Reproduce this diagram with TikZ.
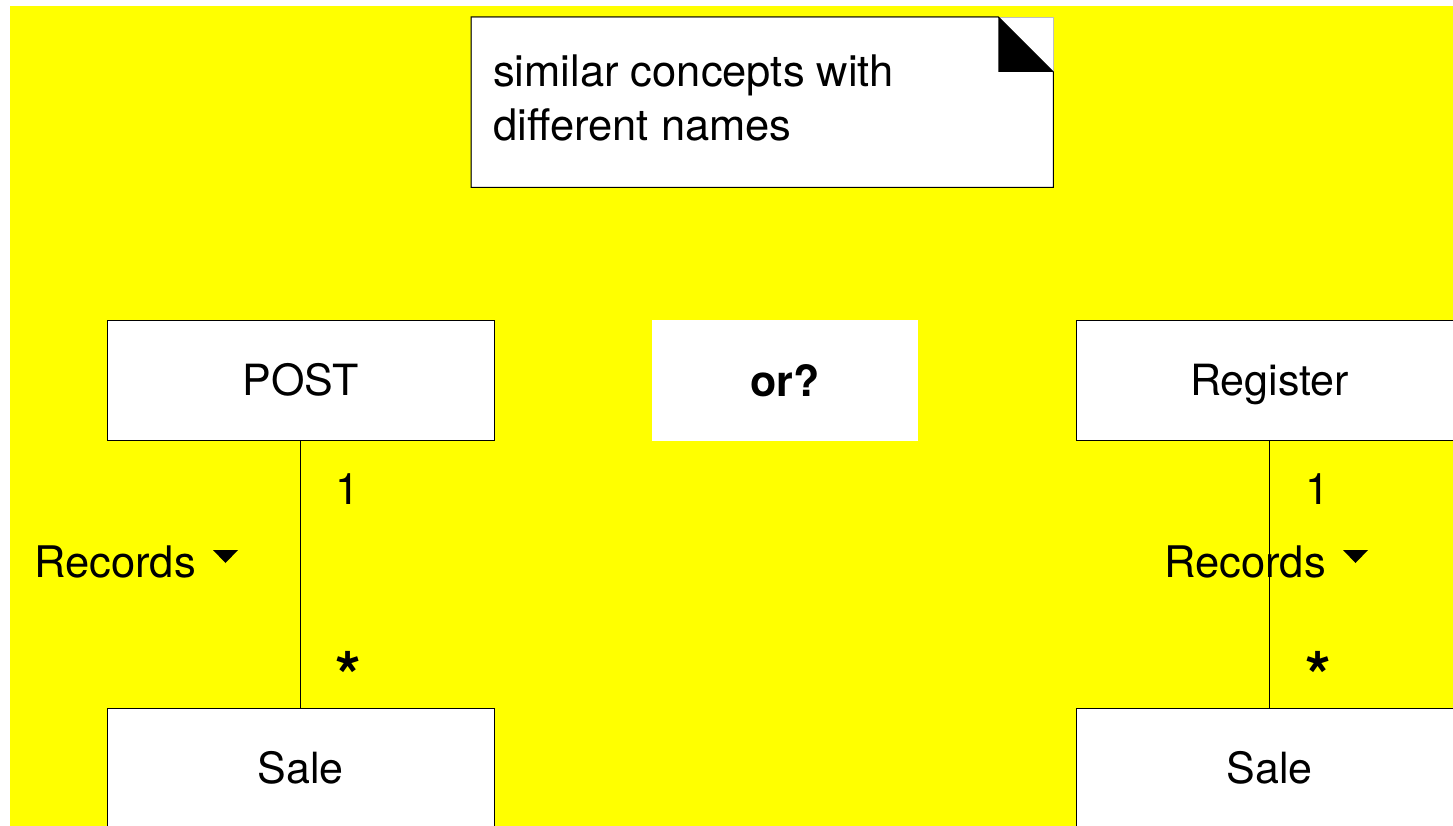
\documentclass[tikz,border=0pt]{standalone}
\usepackage{fontspec}
\setmainfont{TeX Gyre Heros}
\definecolor{bgyellow}{RGB}{255,255,0}
\begin{document}
\begin{tikzpicture}[x=1pt,y=-1pt,
  lbl/.style={font=\fontsize{43.5}{54}\selectfont, inner sep=0pt},
  star/.style={font=\bfseries\fontsize{66}{66}\selectfont, inner sep=0pt},
  cls/.style={draw=black, line width=1pt, fill=white, minimum width=387pt, minimum height=120pt,
    inner sep=0pt, text height=31pt, text depth=0pt, font=\fontsize{43}{54}\selectfont},
  plain/.style={fill=white, minimum width=266pt, minimum height=121pt, inner sep=0pt,
    text height=31pt, text depth=0pt, font=\bfseries\fontsize{43}{54}\selectfont},
  assoc/.style={line width=1pt}]
\useasboundingbox (0,0) rectangle (1453,826);
\fill[bgyellow] (10,6) rectangle (1453,826);

% note
\node[minimum width=582pt, minimum height=170pt, inner sep=0pt, anchor=north west] (note) at (471,17) {};
\draw[gray!50, fill=white, line width=0.8pt] (note.north west) rectangle (note.south east);
\draw[line width=1pt] (note.north west) -- ([xshift=-55pt]note.north east) -- ([yshift=-55pt]note.north east)
  -- (note.south east) -- (note.south west) -- cycle;
\fill ([xshift=-55pt]note.north east) -- ([xshift=-55pt,yshift=-55pt]note.north east)
  -- ([yshift=-55pt]note.north east) -- cycle;
\node[lbl, anchor=north west, align=left] (notetext) at (493,55) {similar concepts with\\different names};

% classes
\node[cls] (post) at (300.5,380) {POST};
\node[plain] (or) at (785,380.5) {or?};
\node[cls] (register) at (1269.5,380) {Register};
\node[cls] (sale1) at (300.5,768) {Sale};
\node[cls] (sale2) at (1269.5,768) {Sale};

% associations
\draw[assoc] (post.south) -- (sale1.north);
\draw[assoc] (register.south) -- (sale2.north);

% labels left
\node[lbl, anchor=base] (m1) at (348,504) {1};
\node[star, anchor=north] (s1) at (348.5,651) {*};
\node[lbl, anchor=base west] (rec1) at (34,577) {Records};
\fill (213,550) -- (238,550) -- (225.5,563) -- cycle;

% labels right
\node[lbl, anchor=base] (m2) at (1318,504) {1};
\node[star, anchor=north] (s2) at (1318.5,651) {*};
\node[lbl, anchor=base west] (rec2) at (1164,577) {Records};
\fill (1343,550) -- (1368,550) -- (1355.5,563) -- cycle;
\end{tikzpicture}
\end{document}
